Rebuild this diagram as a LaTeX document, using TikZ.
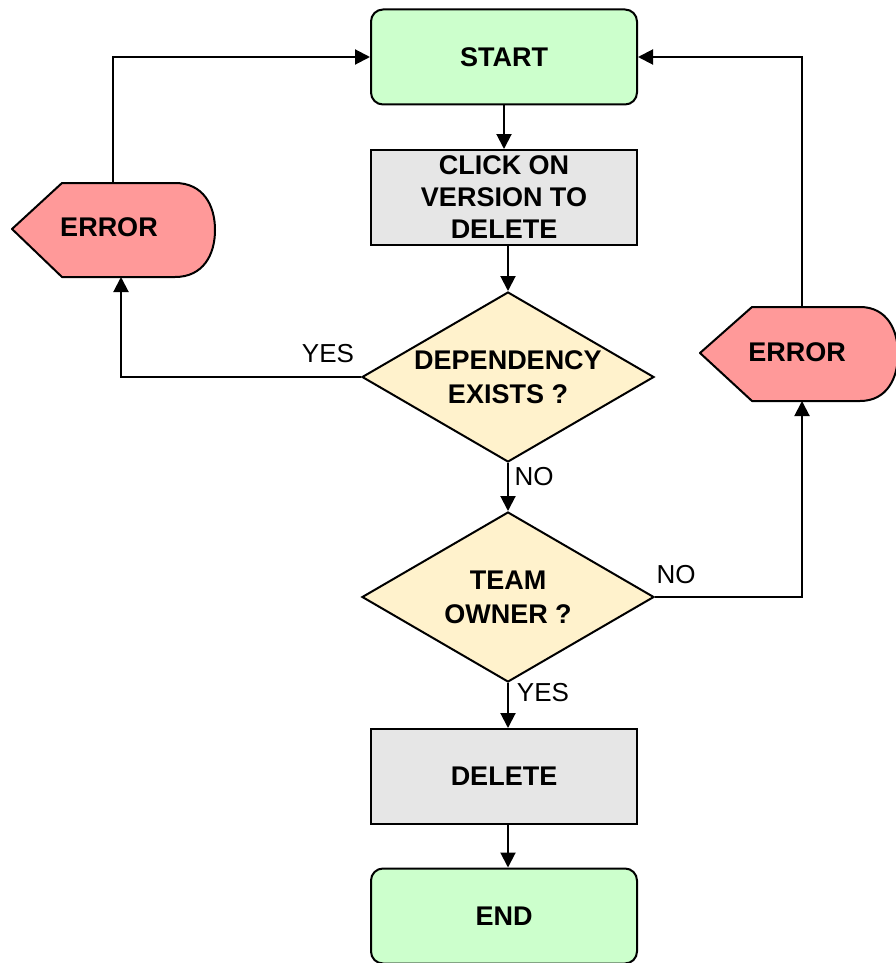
\documentclass[tikz,border=0pt]{standalone}
\usepackage{fontspec}
\setmainfont{Liberation Sans}
\usetikzlibrary{shapes.geometric,arrows.meta}
\definecolor{termgreen}{HTML}{CCFFCC}
\definecolor{procgray}{HTML}{E6E6E6}
\definecolor{decyellow}{HTML}{FFF2CC}
\definecolor{errred}{HTML}{FF9999}
\begin{document}
\begin{tikzpicture}[x=1pt,y=-1pt,
  line width=2pt,
  box/.style={draw, minimum width=266pt, minimum height=95pt, inner sep=0pt,
    font=\fontsize{27}{32}\selectfont\bfseries, align=center},
  terminal/.style={box, rounded corners=12pt, fill=termgreen},
  process/.style={box, fill=procgray},
  decision/.style={draw, diamond, aspect=1.72, fill=decyellow, minimum width=292pt,
    minimum height=170pt, inner sep=0pt, align=center,
    font=\fontsize{27}{34}\selectfont\bfseries},
  errshape/.style={draw, fill=errred, line join=round},
  errtext/.style={font=\fontsize{27}{30}\selectfont\bfseries},
  flow/.style={-{Triangle[length=15pt,width=15pt]}, line width=2pt},
  lbl/.style={font=\fontsize{26}{30}\selectfont, inner sep=0pt}
]
\useasboundingbox (0,0) rectangle (896,963);

% error displays
\path[errshape] (12,229) -- (62,183) -- (175,183)
  .. controls (203,183) and (215,205) .. (215,230)
  .. controls (215,255) and (203,277) .. (175,277) -- (62,277) -- cycle;
\path[errshape] (700,353) -- (752,307) -- (860,307)
  .. controls (887,307) and (898,330) .. (898,354)
  .. controls (898,378) and (887,401) .. (860,401) -- (752,401) -- cycle;
\node[errtext] (errL) at (109,227) {ERROR};
\node[errtext] (errR) at (797,352) {ERROR};
\coordinate (errLtop) at (113,183);
\coordinate (errLbot) at (121,277);
\coordinate (errRtop) at (802,307);
\coordinate (errRbot) at (802,401);

% main column
\node[terminal] (start) at (504,57) {START};
\node[process] (click) at (504,197.5) {CLICK ON\\VERSION TO\\DELETE};
\node[decision] (dep) at (508,377) {DEPENDENCY\\EXISTS ?};
\node[decision] (team) at (508,597) {TEAM\\OWNER ?};
\node[process] (del) at (504,776.5) {DELETE};
\node[terminal] (end) at (504,916) {END};

% connectors
\draw[flow] (start.south) -- (click.north);
\draw[flow] (click.south -| dep.north) -- (dep.north);
\draw[flow] (dep.south) -- (team.north);
\draw[flow] (team.south) -- (team.south |- del.north);
\draw[flow] (team.south |- del.south) -- (team.south |- end.north);
\draw[flow] (dep.west) -| (errLbot);
\draw[flow] (errLtop) |- (start.west);
\draw[flow] (team.east) -| (errRbot);
\draw[flow] (errRtop) |- (start.east);

% branch labels
\node[lbl] (yesA) at (328,354) {YES};
\node[lbl] (noA) at (534,477) {NO};
\node[lbl] (noB) at (676,575) {NO};
\node[lbl] (yesB) at (543,693) {YES};
\end{tikzpicture}
\end{document}
